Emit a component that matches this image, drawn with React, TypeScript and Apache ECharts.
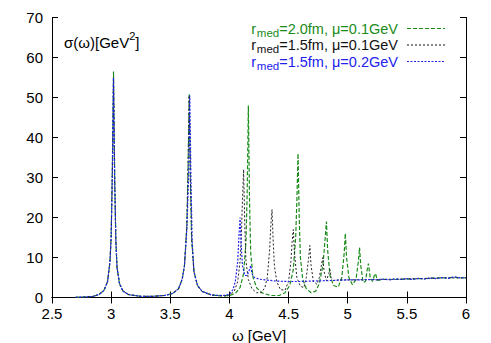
import React, { useEffect, useRef } from "react";
import * as echarts from "echarts";

const xTicks = [2.5, 3, 3.5, 4, 4.5, 5, 5.5, 6];
const yTicks = [0, 10, 20, 30, 40, 50, 60, 70];

const legendLabels = [
  { main: "r", sub: "med", rest: "=2.0fm, μ=0.1GeV", color: "#1a8c1a" },
  { main: "r", sub: "med", rest: "=1.5fm, μ=0.1GeV", color: "#111111" },
  { main: "r", sub: "med", rest: "=1.5fm, μ=0.2GeV", color: "#2222ee" },
];

// r_med = 2.0 fm, mu = 0.1 GeV
const greenData: number[][] = [
  [2.7, 0.05], [2.8, 0.15], [2.85, 0.3], [2.9, 0.8], [2.94, 1.8], [2.97, 4], [2.99, 9], [3.0, 15],
  [3.01, 32], [3.02, 56.5], [3.03, 30], [3.04, 14], [3.05, 7.5], [3.07, 3.5], [3.1, 1.6], [3.15, 0.7],
  [3.25, 0.3], [3.35, 0.3], [3.45, 0.5], [3.52, 1.0], [3.57, 2.2], [3.6, 4.5], [3.62, 8], [3.64, 18],
  [3.65, 32], [3.66, 51], [3.67, 30], [3.68, 15], [3.7, 6.5], [3.73, 3], [3.77, 1.5], [3.85, 0.6],
  [3.95, 0.4], [4.0, 0.5], [4.05, 1.0], [4.09, 2.5], [4.12, 6], [4.14, 14], [4.15, 26], [4.16, 48],
  [4.17, 24], [4.18, 11], [4.2, 5], [4.23, 2.4], [4.28, 1.1], [4.35, 0.5], [4.42, 0.5], [4.47, 1.2],
  [4.51, 3], [4.54, 7], [4.56, 15], [4.57, 24], [4.58, 36], [4.59, 20], [4.6, 10], [4.62, 4.5],
  [4.65, 2.2], [4.69, 1.2], [4.73, 1.6], [4.76, 3.5], [4.79, 8], [4.81, 15], [4.82, 19], [4.83, 12],
  [4.85, 5.5], [4.88, 3], [4.92, 2.6], [4.95, 5], [4.97, 11], [4.98, 16], [4.99, 10], [5.01, 5],
  [5.04, 3.2], [5.07, 4.5], [5.09, 9], [5.1, 12.5], [5.11, 8], [5.13, 3.8], [5.15, 4], [5.165, 7],
  [5.175, 8.5], [5.19, 5], [5.21, 4], [5.225, 5.5], [5.235, 6], [5.25, 4.3], [5.3, 4.5], [5.4, 4.5],
  [5.5, 4.6], [5.6, 4.7], [5.7, 4.8], [5.8, 4.9], [5.9, 5.0], [6.0, 4.9],
];

// r_med = 1.5 fm, mu = 0.1 GeV
const blackData: number[][] = [
  [2.7, 0.05], [2.8, 0.15], [2.85, 0.3], [2.9, 0.8], [2.94, 1.8], [2.97, 4], [2.99, 9], [3.0, 15],
  [3.01, 31], [3.02, 55], [3.03, 29], [3.04, 14], [3.05, 7.5], [3.07, 3.5], [3.1, 1.6], [3.15, 0.7],
  [3.25, 0.3], [3.35, 0.3], [3.45, 0.5], [3.52, 1.0], [3.57, 2.2], [3.6, 4.5], [3.62, 8], [3.64, 18],
  [3.65, 32], [3.66, 50.5], [3.67, 30], [3.68, 15], [3.7, 6.5], [3.73, 3], [3.77, 1.5], [3.85, 0.6],
  [3.95, 0.4], [4.0, 0.6], [4.04, 1.5], [4.07, 4], [4.09, 9], [4.1, 15], [4.11, 24], [4.12, 32],
  [4.13, 18], [4.14, 9], [4.16, 4.5], [4.19, 2.2], [4.23, 1.2], [4.27, 1.2], [4.3, 2.5], [4.32, 5],
  [4.34, 12], [4.35, 18], [4.36, 22], [4.37, 14], [4.38, 8], [4.4, 4], [4.43, 2], [4.47, 1.8],
  [4.5, 4], [4.52, 9], [4.53, 14], [4.54, 17], [4.55, 11], [4.57, 5], [4.6, 2.8], [4.63, 2.5],
  [4.65, 5], [4.67, 10], [4.68, 13], [4.69, 8], [4.71, 4], [4.74, 3.3], [4.76, 5], [4.78, 8.5],
  [4.79, 10], [4.8, 6.5], [4.82, 4.2], [4.84, 6], [4.85, 7], [4.86, 5], [4.88, 4.2], [4.92, 4.4],
  [5.0, 4.4], [5.2, 4.5], [5.4, 4.6], [5.6, 4.7], [5.8, 4.9], [6.0, 4.9],
];

// r_med = 1.5 fm, mu = 0.2 GeV
const blueData: number[][] = [
  [2.7, 0.05], [2.8, 0.15], [2.85, 0.3], [2.9, 0.8], [2.94, 1.8], [2.97, 4], [2.99, 9], [3.0, 15],
  [3.01, 30], [3.02, 55], [3.03, 29], [3.04, 14], [3.05, 7.5], [3.07, 3.5], [3.1, 1.6], [3.15, 0.7],
  [3.25, 0.3], [3.35, 0.3], [3.45, 0.5], [3.52, 1.0], [3.57, 2.2], [3.6, 4.5], [3.62, 8], [3.64, 17],
  [3.655, 30], [3.665, 50.5], [3.675, 29], [3.685, 14], [3.7, 6.5], [3.73, 3], [3.77, 1.5], [3.85, 0.6],
  [3.95, 0.5], [4.0, 0.8], [4.03, 2], [4.05, 4], [4.07, 9], [4.08, 15], [4.09, 20], [4.1, 13],
  [4.11, 8], [4.13, 5.5], [4.15, 5.5], [4.17, 7], [4.18, 8], [4.19, 6], [4.21, 5], [4.25, 4.6],
  [4.3, 4.4], [4.4, 4.1], [4.5, 4.0], [4.6, 4.0], [4.7, 4.1], [4.8, 4.2], [4.9, 4.3], [5.0, 4.4],
  [5.1, 4.4], [5.2, 4.5], [5.25, 4.4], [5.3, 4.6], [5.35, 4.4], [5.4, 4.6], [5.45, 4.5], [5.5, 4.7],
  [5.55, 4.5], [5.6, 4.8], [5.65, 4.6], [5.7, 4.9], [5.75, 4.7], [5.8, 5.0], [5.85, 4.8], [5.9, 5.2],
  [5.95, 4.9], [6.0, 5.0],
];

const FONT = "Liberation Sans, Arial, Helvetica, sans-serif";

function measure(text: string, size: number): number {
  const c = document.createElement("canvas").getContext("2d");
  if (!c) return text.length * size * 0.55;
  c.font = `${size}px ${FONT}`;
  return c.measureText(text).width;
}

export default function App() {
  const ref = useRef<HTMLDivElement>(null);
  useEffect(() => {
    if (!ref.current) return;
    const chart = echarts.init(ref.current, undefined, { renderer: "svg" });
    const axisCommon = {
      axisLine: { show: true, lineStyle: { color: "#000", width: 1 } },
      axisTick: { show: true, inside: true, length: 6, lineStyle: { color: "#000" } },
      splitLine: { show: false },
    };
    const legendItems: any[] = [];
    const dashes = [[4, 2], [2, 2], [2, 1.5]];
    const textRight = 398;
    const mainSize = 14.5;
    const subSize = 11.5;
    legendLabels.forEach((l, i) => {
      const y = 27.5 + i * 16.5;
      const wRest = measure(l.rest, mainSize);
      const wSub = measure(l.sub, subSize);
      const wMain = measure(l.main, mainSize);
      const xRest = textRight - wRest;
      const xSub = xRest - wSub;
      const xMain = xSub - wMain - 0.8;
      const common = { fill: l.color, fontFamily: FONT, textAlign: "left", textVerticalAlign: "middle" };
      legendItems.push({ type: "text", x: xMain, y: y + 1, style: { ...common, text: l.main, fontSize: mainSize } });
      legendItems.push({ type: "text", x: xSub, y: y + 5, style: { ...common, text: l.sub, fontSize: subSize } });
      legendItems.push({ type: "text", x: xRest, y: y + 1, style: { ...common, text: l.rest, fontSize: mainSize } });
      legendItems.push({
        type: "line",
        shape: { x1: 407, y1: y + 1, x2: 445, y2: y + 1 },
        style: { stroke: l.color, lineWidth: 1, lineDash: dashes[i] },
      });
    });
    const labelMain = "σ(ω)[GeV";
    const wLab = measure(labelMain, 15);
    chart.setOption({
      animation: false,
      grid: { left: 52, right: 25, top: 17.5, bottom: 45.5, containLabel: false, outerBoundsMode: "none" },
      xAxis: [
        {
          type: "value", min: 2.5, max: 6, interval: 0.5, ...axisCommon,
          axisLabel: { fontSize: 15, color: "#000", fontFamily: FONT, margin: 8, formatter: (v: number) => (xTicks.includes(v) ? String(v) : "") },
          name: "ω [GeV]", nameLocation: "middle", nameGap: 30,
          nameTextStyle: { fontSize: 15, color: "#000", fontFamily: FONT },
        },
        { type: "value", min: 2.5, max: 6, interval: 0.5, position: "top", ...axisCommon, axisLabel: { show: false } },
      ],
      yAxis: [
        {
          type: "value", min: 0, max: 70, interval: 10, ...axisCommon,
          axisLabel: { fontSize: 15, color: "#000", fontFamily: FONT, margin: 9, formatter: (v: number) => (yTicks.includes(v) ? String(v) : "") },
        },
        { type: "value", min: 0, max: 70, interval: 10, position: "right", ...axisCommon, axisLabel: { show: false } },
      ],
      graphic: [
        { type: "text", x: 64, y: 42, style: { text: labelMain, fontSize: 15, fontFamily: FONT, fill: "#000", textVerticalAlign: "middle" } },
        { type: "text", x: 64 + wLab, y: 36, style: { text: "2", fontSize: 11, fontFamily: FONT, fill: "#000", textVerticalAlign: "middle" } },
        { type: "text", x: 64 + wLab + measure("2", 11), y: 42, style: { text: "]", fontSize: 15, fontFamily: FONT, fill: "#000", textVerticalAlign: "middle" } },
        ...legendItems,
      ],
      series: [
        {
          type: "line", data: greenData, showSymbol: false, symbol: "none",
          lineStyle: { color: "#1a8c1a", width: 1.2, type: [4, 2] }, z: 2,
        },
        {
          type: "line", data: blackData, showSymbol: false, symbol: "none",
          lineStyle: { color: "#222222", width: 1, type: [2, 2] }, z: 3,
        },
        {
          type: "line", data: blueData, showSymbol: false, symbol: "none",
          lineStyle: { color: "#2222ee", width: 1.2, type: [2, 1.5] }, z: 4,
        },
      ],
    });
    return () => chart.dispose();
  }, []);
  return <div ref={ref} style={{ width: 491, height: 343, position: "absolute", left: 0, top: 0, background: "#fff" }} />;
}
